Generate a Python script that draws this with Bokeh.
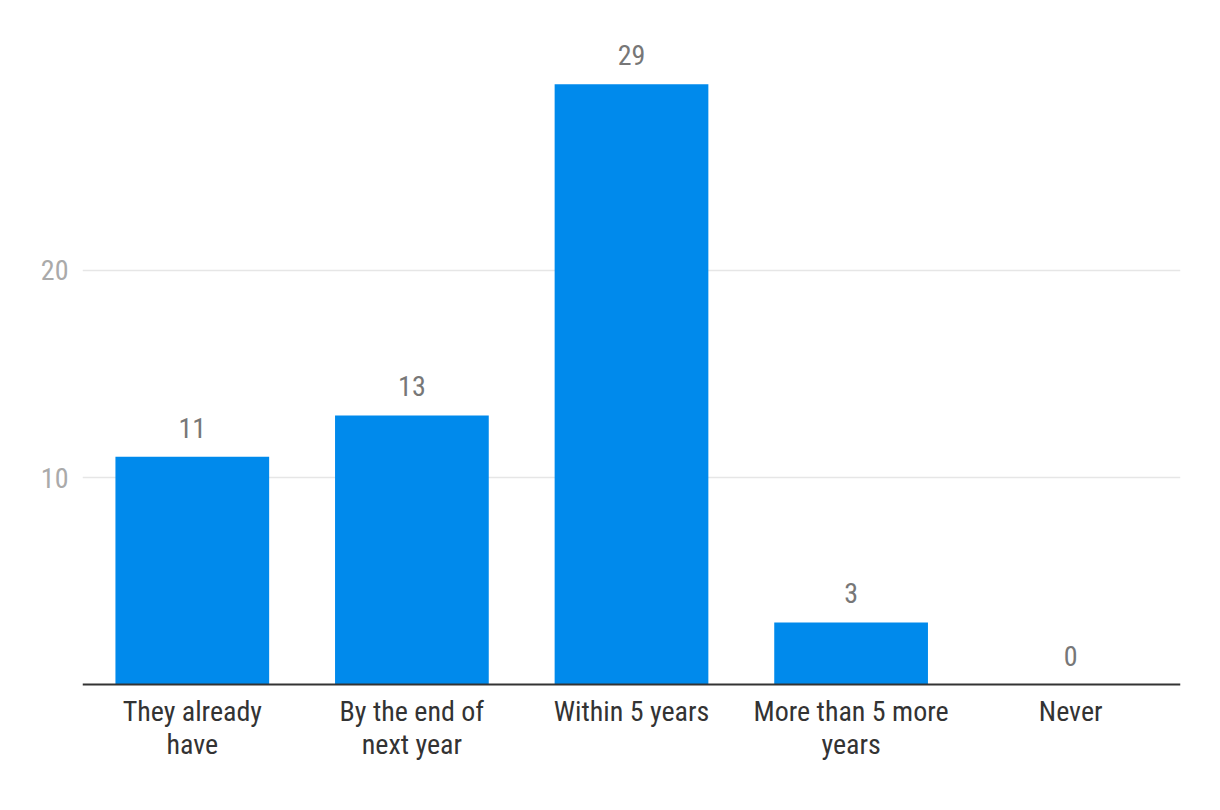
from bokeh.plotting import figure
from bokeh.models import Range1d, FixedTicker, Span, ColumnDataSource
from bokeh.core.properties import value
from bokeh.embed import file_html
from bokeh.resources import INLINE

categories = ["They already have", "By the end of next year", "Within 5 years",
              "More than 5 more years", "Never"]
cat_labels = ["They already\nhave", "By the end of\nnext year", "Within 5 years",
              "More than 5 more\nyears", "Never"]
counts = [11, 13, 29, 3, 0]
y_ticks = [10, 20]

FONT = "Liberation Sans Narrow, Roboto Condensed, Roboto, sans-serif"

src = ColumnDataSource(dict(cat=categories, label=cat_labels, count=counts,
                            txt=[str(c) for c in counts], zero=[0] * len(counts)))

p = figure(x_range=categories, y_range=Range1d(-5.31, 33.04),
           width=1204, height=794, output_backend="svg", toolbar_location=None,
           x_axis_location=None, min_border_left=82, min_border_right=24,
           min_border_top=0, min_border_bottom=0)
p.outline_line_color = None
p.background_fill_color = "white"
p.border_fill_color = "white"

p.vbar(x="cat", top="count", bottom=0, width=0.7, source=src,
       fill_color="#008AEC", line_color=None)

p.xgrid.grid_line_color = None
p.ygrid.grid_line_color = "#e6e6e6"
p.ygrid.grid_line_width = 1.5
p.yaxis.ticker = FixedTicker(ticks=y_ticks)
p.yaxis.axis_line_color = None
p.yaxis.major_tick_line_color = None
p.yaxis.minor_tick_line_color = None
p.yaxis.major_label_text_color = "#aaaaaa"
p.yaxis.major_label_text_font = FONT
p.yaxis.major_label_text_font_size = "28px"
p.yaxis.major_label_standoff = 8

p.add_layout(Span(location=0, dimension="width", line_color="#333333", line_width=2))

p.text(x="cat", y="count", text="txt", source=src, text_align="center",
       text_baseline="bottom", y_offset=-19, text_color="#777777",
       text_font=value(FONT), text_font_size="28px")

p.text(x="cat", y="zero", text="label", source=src, text_align="center",
       text_baseline="top", y_offset=10, text_color="#333333",
       text_font=value(FONT), text_font_size="28px", text_line_height=1.0)

open("out.html", "w").write(file_html(p, INLINE))
